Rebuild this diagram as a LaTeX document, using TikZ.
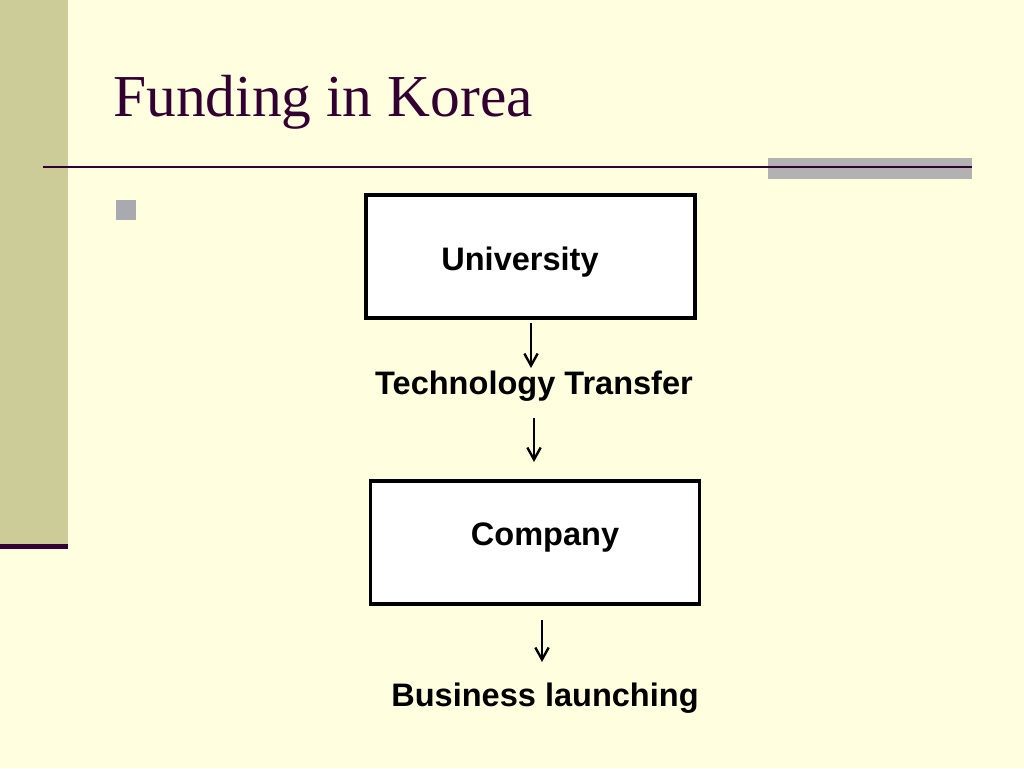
\documentclass[tikz,border=0pt]{standalone}
\usepackage{fontspec}
\setmainfont{Liberation Serif}
\newfontfamily\arialbf{Liberation Sans}[UprightFont=*-Bold]
\usetikzlibrary{arrows.meta,calc}
\definecolor{bgyellow}{HTML}{FFFFDF}
\definecolor{sidebar}{HTML}{CCCC99}
\definecolor{darkplum}{HTML}{330033}
\definecolor{greybar}{HTML}{B2B2B2}
\definecolor{bulletgrey}{HTML}{A9A9B0}
\tikzset{
  flowbox/.style={draw=black, line width=2.4pt, fill=white, minimum width=246.75pt, minimum height=92.25pt, inner sep=0pt},
  flowtext/.style={font=\arialbf\fontsize{24.4pt}{28pt}\selectfont, inner sep=0pt, anchor=base},
  flowarrow/.style={draw=black, line width=1.8pt, -{Straight Barb[length=9pt, width=10pt, line width=1.8pt]}},
}
\begin{document}
\begin{tikzpicture}[x=0.75pt, y=-0.75pt]
\useasboundingbox (0,0) rectangle (1024,768);
\fill[bgyellow] (0,0) rectangle (1024,768);
% left sidebar
\fill[sidebar] (0,0) rectangle (68,545);
\fill[darkplum] (0,544) rectangle (68,549);
% title
\node[anchor=base west, inner sep=0pt, text=darkplum, font=\fontsize{44.6pt}{50pt}\selectfont] (title) at (113,116) {Funding in Korea};
% rule and grey bar
\fill[greybar] (768,158) rectangle (972,179);
\draw[darkplum, line width=1.6pt] (43,167) -- (972,167);
% bullet
\fill[bulletgrey] (116,200) rectangle (136,220);
% boxes
\node[flowbox] (uni) at (530.5,256.5) {};
\node[flowtext] (unit) at (520,270) {University};
\node[flowtext] (tt) at (534,394) {Technology Transfer};
\node[flowbox] (comp) at (535,542.5) {};
\node[flowtext] (compt) at (545,545) {Company};
\node[flowtext] (bl) at (545,706) {Business launching};
% connectors
\coordinate (a1s) at (531,323);
\coordinate (a1e) at (531,368);
\coordinate (a2s) at (534,418);
\coordinate (a2e) at (534,462);
\coordinate (a3s) at (542,620);
\coordinate (a3e) at (542,662);
\draw[flowarrow] (a1s) -- (a1e);
\draw[flowarrow] (a2s) -- (a2e);
\draw[flowarrow] (a3s) -- (a3e);
\end{tikzpicture}
\end{document}
